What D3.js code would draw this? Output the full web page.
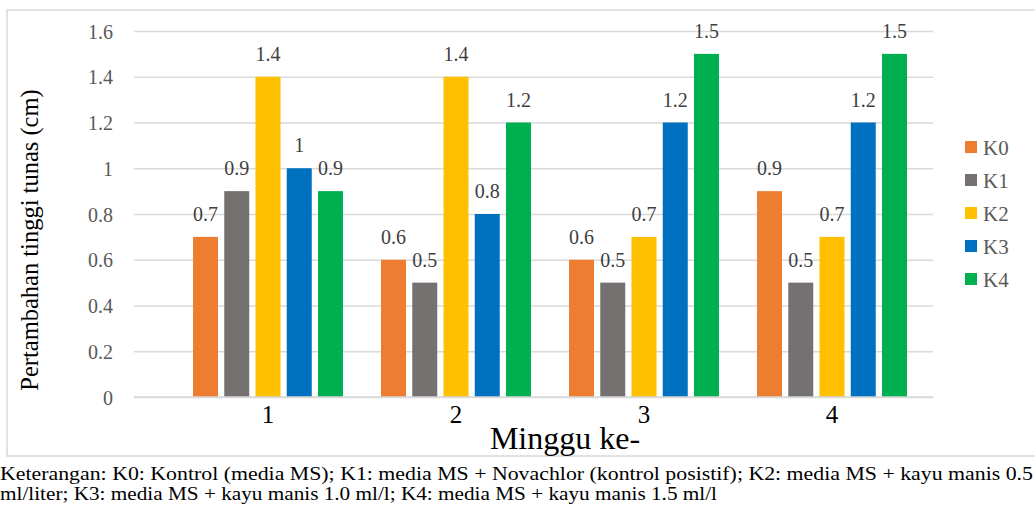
<!DOCTYPE html>
<html>
<head>
<meta charset="utf-8">
<script src="https://cdn.jsdelivr.net/npm/d3@7"></script>
</head>
<body style="margin:0;background:#fff;">
<svg id="chart" width="1035" height="506" style="display:block;"></svg>
<script>
// Weeks on the x axis and treatment series
const weeks = ["1", "2", "3", "4"];
const series = ["K0", "K1", "K2", "K3", "K4"];

// Shoot height increase (cm) per treatment, one value per week
const K0 = [0.7, 0.6, 0.6, 0.9];
const K1 = [0.9, 0.5, 0.5, 0.5];
const K2 = [1.4, 1.4, 0.7, 0.7];
const K3 = [1.0, 0.8, 1.2, 1.2];
const K4 = [0.9, 1.2, 1.5, 1.5];

const yTicks = [0, 0.2, 0.4, 0.6, 0.8, 1, 1.2, 1.4, 1.6];

const colors = ["#ED7D31", "#767171", "#FFC000", "#0070C0", "#00B050"];

const footnote = [
  "Keterangan: K0: Kontrol (media MS); K1: media MS + Novachlor (kontrol posistif); K2: media MS + kayu manis 0.5",
  "ml/liter; K3: media MS + kayu manis 1.0 ml/l; K4: media MS + kayu manis 1.5 ml/l"
];
// Rendered width of each footnote line
const footnoteWidths = [1033, 717];

const valuesBySeries = { K0, K1, K2, K3, K4 };
const FONT = '"Liberation Serif", "Times New Roman", Tinos';

const svg = d3.select("#chart");

// Chart frame
svg.append("rect")
  .attr("x", 7).attr("y", 10)
  .attr("width", 1040).attr("height", 446)
  .attr("fill", "#fff")
  .attr("stroke", "#d9d9d9").attr("stroke-width", 1.5);

const plotLeft = 134, plotRight = 933;

const y = d3.scaleLinear().domain([0, 1.6]).range([397, 31]);

const x0 = d3.scaleBand()
  .domain(weeks)
  .range([174, 926])
  .paddingInner(38 / 188)
  .paddingOuter(19 / 188);

const x1 = d3.scaleBand()
  .domain(series)
  .range([0, x0.bandwidth()])
  .paddingInner(0.2);

const color = d3.scaleOrdinal().domain(series).range(colors);

// Horizontal gridlines
const grid = svg.append("g")
  .attr("transform", `translate(${plotLeft},0)`)
  .call(d3.axisRight(y).tickValues(yTicks).tickSize(plotRight - plotLeft).tickFormat(""));
grid.select(".domain").remove();
grid.selectAll("line").attr("stroke", "#d9d9d9").attr("stroke-width", 1.5);

// Y axis labels
const yAxis = svg.append("g")
  .attr("transform", `translate(${plotLeft},0)`)
  .call(d3.axisLeft(y).tickValues(yTicks).tickSize(0).tickPadding(21).tickFormat(d3.format("")));
yAxis.select(".domain").remove();
yAxis.selectAll("text")
  .style("font-family", FONT)
  .attr("font-size", 20)
  .attr("fill", "#595959")
  .attr("dy", "0.36em");

// Bars
const groups = svg.append("g").selectAll("g")
  .data(weeks)
  .join("g")
  .attr("transform", d => `translate(${x0(d)},0)`);

const cells = groups.selectAll("g")
  .data((w, i) => series.map(s => ({ s, v: valuesBySeries[s][i] })))
  .join("g");

cells.append("rect")
  .attr("x", d => x1(d.s))
  .attr("y", d => y(d.v))
  .attr("width", x1.bandwidth())
  .attr("height", d => y(0) - y(d.v))
  .attr("fill", d => color(d.s));

cells.append("text")
  .attr("x", d => x1(d.s) + x1.bandwidth() / 2)
  .attr("y", d => y(d.v) - 16)
  .attr("text-anchor", "middle")
  .style("font-family", FONT)
  .attr("font-size", 20)
  .attr("fill", "#404040")
  .text(d => d3.format("")(d.v));

// X axis
const xAxis = svg.append("g")
  .attr("transform", `translate(0,${y(0)})`)
  .call(d3.axisBottom(x0).tickSize(0).tickPadding(8));
xAxis.select(".domain").remove();
xAxis.selectAll("text")
  .style("font-family", FONT)
  .attr("font-size", 25)
  .attr("fill", "#000");

svg.append("line")
  .attr("x1", plotLeft).attr("x2", plotRight)
  .attr("y1", y(0)).attr("y2", y(0))
  .attr("stroke", "#d9d9d9").attr("stroke-width", 1.5);

// Axis titles
svg.append("text")
  .attr("x", 565).attr("y", 449)
  .attr("text-anchor", "middle")
  .style("font-family", FONT)
  .attr("font-size", 32)
  .attr("fill", "#000")
  .text("Minggu ke-");

svg.append("text")
  .attr("transform", "translate(38,240) rotate(-90)")
  .attr("text-anchor", "middle")
  .style("font-family", FONT)
  .attr("font-size", 24.5)
  .attr("fill", "#000")
  .text("Pertambahan tinggi tunas (cm)");

// Legend
const legend = svg.append("g").selectAll("g")
  .data(series)
  .join("g")
  .attr("transform", (d, i) => `translate(965,${141 + i * 33})`);
legend.append("rect")
  .attr("width", 12).attr("height", 12)
  .attr("fill", d => color(d));
legend.append("text")
  .attr("x", 18).attr("y", 14)
  .style("font-family", FONT)
  .attr("font-size", 21)
  .attr("fill", "#595959")
  .text(d => d);

// Footnote below the chart
svg.append("g").selectAll("text")
  .data(footnote)
  .join("text")
  .attr("x", 0)
  .attr("y", (d, i) => 479.5 + i * 20.5)
  .attr("textLength", (d, i) => footnoteWidths[i])
  .attr("lengthAdjust", "spacingAndGlyphs")
  .style("font-family", FONT)
  .attr("font-size", 18.5)
  .attr("fill", "#000")
  .text(d => d);
</script>
</body>
</html>
